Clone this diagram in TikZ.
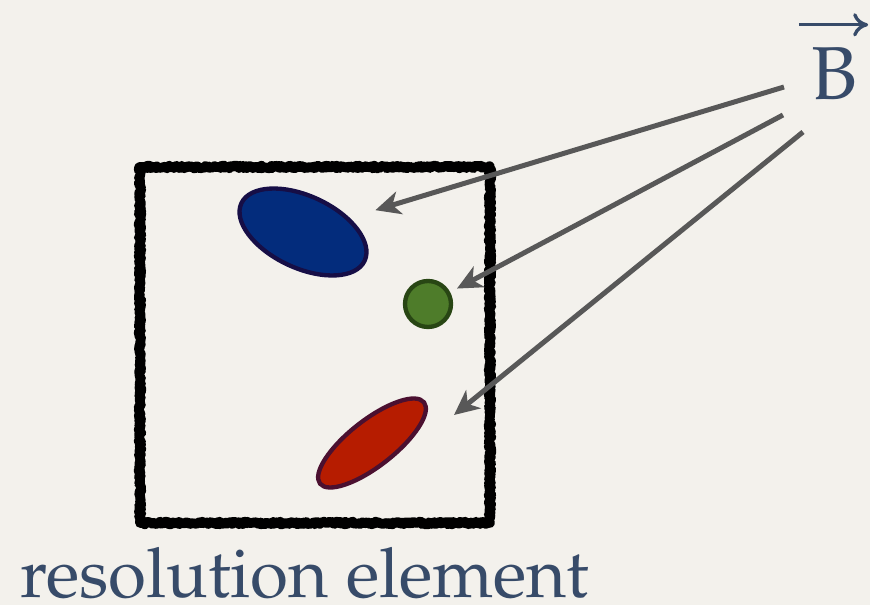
\documentclass[tikz,border=0pt]{standalone}
\usepackage[T1,TU]{fontenc}
\usepackage{xcolor}
\usepackage{tikz}
\usetikzlibrary{shapes.geometric, arrows.meta, decorations.pathmorphing, positioning}

\definecolor{paper}{RGB}{243,241,236}
\definecolor{ink}{RGB}{55,75,105}
\definecolor{pointer}{RGB}{88,88,88}
\definecolor{blobblue}{RGB}{3,44,124}
\definecolor{blobblueedge}{RGB}{22,14,70}
\definecolor{blobgreen}{RGB}{78,124,42}
\definecolor{blobgreenedge}{RGB}{40,70,20}
\definecolor{blobred}{RGB}{182,28,0}
\definecolor{blobrededge}{RGB}{75,16,48}

\newcommand{\palfont}{\fontencoding{T1}\fontfamily{ppl}\selectfont}

\begin{document}
\begin{tikzpicture}[x=0.3mm, y=-0.3mm,
        blob/.style={ellipse, draw, line width=1.3mm, inner sep=0pt},
        field/.style={draw=pointer, line width=1.5mm, -{Stealth[length=7.5mm, width=7mm, inset=2.2mm]}},
        rough/.style={line join=round, decorate,
              decoration={random steps, segment length=1pt, amplitude=#1}},
        lettering/.style={text=ink, inner sep=0pt}]
        \fill[paper] (0,0) rectangle (870,605);
        \useasboundingbox (0,0) rectangle (870,605);

        % the resolution element, scribbled
        \draw[line width=2.9mm, rough=1.2pt] (140,167) rectangle (490,523);
        \draw[line width=1.2mm, rough=2.6pt] (140,167) rectangle (490,523);

        \node[blob, draw=blobblueedge, fill=blobblue, minimum width=40.8mm, minimum height=21.6mm, rotate=-25] (blue) at (303,232) {};
        \node[blob, circle, draw=blobgreenedge, fill=blobgreen, minimum size=13.8mm] (green) at (428,304) {};
        \node[blob, draw=blobrededge, fill=blobred, minimum width=39.6mm, minimum height=13.8mm, rotate=38] (red) at (372,443) {};

        \node[lettering, font=\palfont\fontsize{64}{70}\selectfont, anchor=base] (bfield) at (834,100) {B};
        \draw[ink, line width=1mm, -{To[length=4.5mm, width=7mm]}]
              ([xshift=-3.6mm, yshift=6.9mm]bfield.north west) -- ([xshift=3.3mm, yshift=6.9mm]bfield.north east);

        \node[lettering, font=\palfont\fontsize{59}{66}\selectfont, anchor=base west] (reselem) at (20,598) {resolution element};

        % field lines
        \coordinate (tailA) at (784,87);
        \coordinate (tailB) at (783,115);
        \coordinate (tailC) at (803,132);
        \coordinate (tipC) at (454,415);

        \path
        (tailA) edge [field, shorten >=8mm] (blue)
        (tailB) edge [field, shorten >=2.3mm] (green)
        (tailC) edge [field] (tipC);
\end{tikzpicture}
\end{document}
